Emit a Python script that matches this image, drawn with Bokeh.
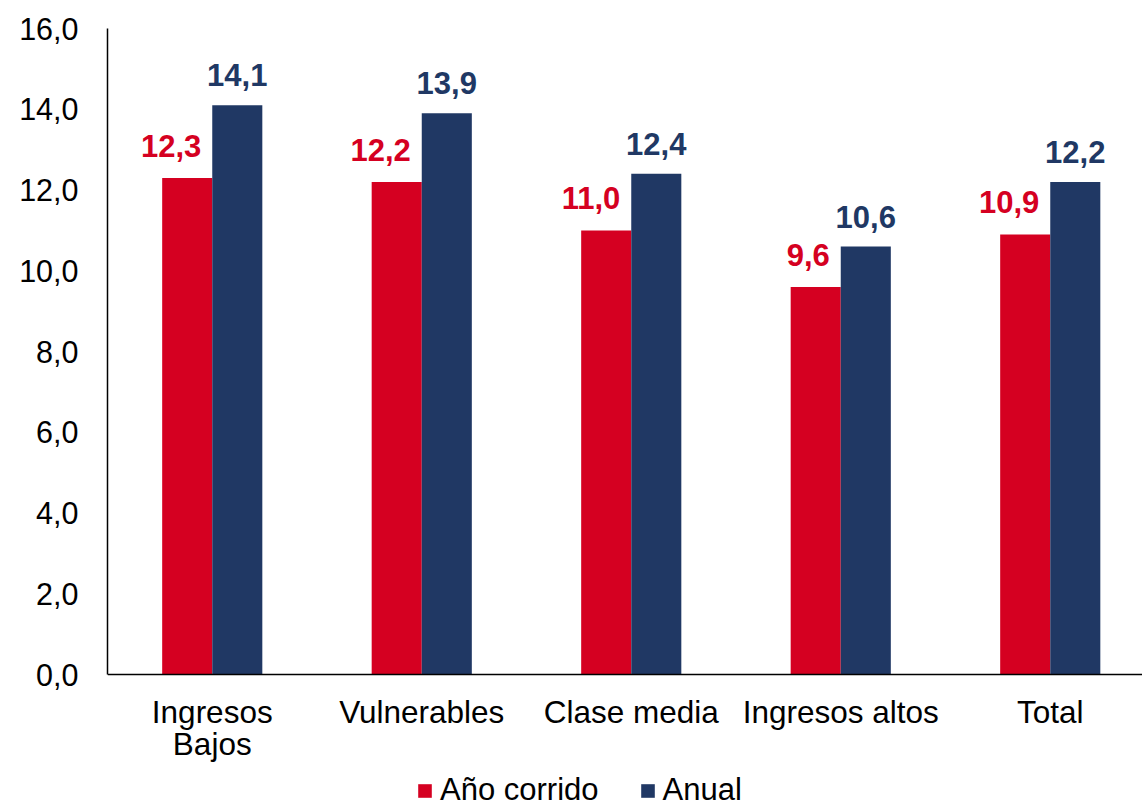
import numpy as np
from bokeh.plotting import figure
from bokeh.models import (Range1d, FixedTicker, CustomJSTickFormatter, Legend, LegendItem,
                          ColumnDataSource, Span)
from bokeh.core.properties import value
from bokeh.embed import file_html
from bokeh.resources import INLINE

# ---- data ----
categories = ["Ingresos\nBajos", "Vulnerables", "Clase media", "Ingresos altos", "Total"]
anio_corrido = [12.3, 12.2, 11.0, 9.6, 10.9]
anual = [14.1, 13.9, 12.4, 10.6, 12.2]
y_ticks = [0, 2, 4, 6, 8, 10, 12, 14, 16]
series_names = ["Año corrido", "Anual"]

RED = "#D50021"
NAVY = "#203864"
FONT = "Liberation Sans"

n = len(categories)
centers = np.arange(n) + 0.5
bw = 0.239
FW = 1035          # frame width in px
PH = 646           # pixel height of the 0..16 value span
FH = 780           # frame height (extends below zero to host labels and legend)
ymax = max(y_ticks)
ymin = -(FH - PH) / PH * ymax

p = figure(frame_width=FW, frame_height=FH, output_backend="svg", toolbar_location=None,
           x_range=Range1d(0, FW / 209.5), y_range=Range1d(ymin, ymax),
           x_axis_location=None,
           min_border_left=107, min_border_top=28, min_border_right=0, min_border_bottom=0)
p.outline_line_color = None
p.xgrid.visible = False
p.ygrid.visible = False
p.background_fill_color = "white"
p.border_fill_color = "white"

src = ColumnDataSource(dict(
    xr=centers - bw / 2, xb=centers + bw / 2, xc=centers,
    a=anio_corrido, b=anual,
    la=[f"{v:.1f}".replace(".", ",") for v in anio_corrido],
    lb=[f"{v:.1f}".replace(".", ",") for v in anual],
    l1=[c.split("\n")[0] for c in categories],
    l2=[c.split("\n")[1] if "\n" in c else "" for c in categories],
    zero=[0] * n,
))

r1 = p.vbar(x="xr", top="a", width=bw, bottom=0, source=src, fill_color=RED, line_color=None)
r2 = p.vbar(x="xb", top="b", width=bw, bottom=0, source=src, fill_color=NAVY, line_color=None)

# data labels
p.text(x="xc", y="a", text="la", source=src, text_align="right", text_baseline="middle",
       x_offset=-11, y_offset=-32, text_color=RED, text_font=value(FONT),
       text_font_size="31px", text_font_style="bold")
p.text(x="xb", y="b", text="lb", source=src, text_align="center", text_baseline="middle",
       y_offset=-30, text_color=NAVY, text_font=value(FONT),
       text_font_size="31px", text_font_style="bold")

# category axis: baseline line + two-line category labels
p.add_layout(Span(location=0, dimension="width", line_color="black", line_width=1.5))
p.text(x="xc", y="zero", text="l1", source=src, text_align="center", text_baseline="middle",
       y_offset=37, text_color="black", text_font=value(FONT), text_font_size="31.5px")
p.text(x="xc", y="zero", text="l2", source=src, text_align="center", text_baseline="middle",
       y_offset=69, text_color="black", text_font=value(FONT), text_font_size="31.5px")

# y axis
p.yaxis.ticker = FixedTicker(ticks=y_ticks)
p.yaxis.bounds = (min(y_ticks), ymax)
p.yaxis.formatter = CustomJSTickFormatter(code="return tick.toFixed(1).replace('.', ',');")
p.yaxis.major_tick_line_color = None
p.yaxis.minor_tick_line_color = None
p.yaxis.major_tick_out = 0
p.yaxis.major_label_standoff = 29
p.yaxis.major_label_text_font = FONT
p.yaxis.major_label_text_font_size = "30.5px"
p.yaxis.major_label_text_color = "black"
p.yaxis.axis_line_color = "black"
p.yaxis.axis_line_width = 1.5

legend = Legend(items=[LegendItem(label=series_names[0], renderers=[r1]),
                       LegendItem(label=series_names[1], renderers=[r2])],
                orientation="horizontal", location=(309, 0),
                glyph_width=17, glyph_height=17, label_standoff=7, spacing=40,
                padding=0, margin=0, border_line_color=None, background_fill_alpha=0,
                label_text_font=FONT, label_text_font_size="31px", label_text_color="black")
p.add_layout(legend, "center")

open("out.html", "w").write(file_html(p, INLINE))
